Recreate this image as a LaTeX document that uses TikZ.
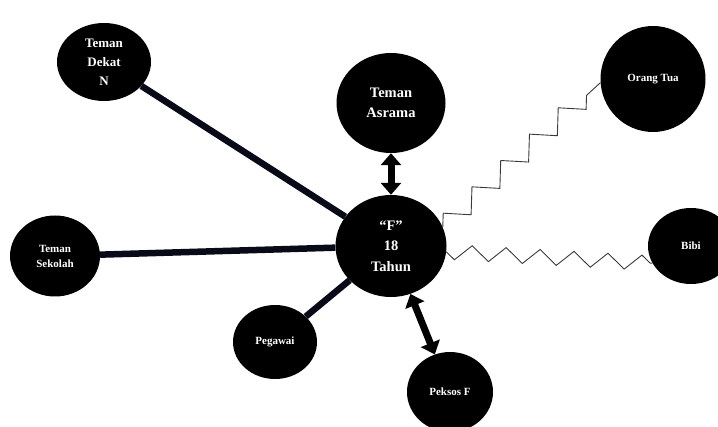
\documentclass[tikz,border=0pt]{standalone}
\usepackage{fontspec}
\setmainfont{Liberation Serif}
\usetikzlibrary{positioning}
\usetikzlibrary{shapes.geometric}
\usetikzlibrary{arrows.meta}
\usetikzlibrary{decorations.pathmorphing}
\definecolor{linkblue}{HTML}{080A18}
\definecolor{zigzaggray}{HTML}{3A3A3A}

\begin{document}
\begin{tikzpicture}[x=1pt, y=-1pt,
  person/.style={ellipse, fill=black, text=white, align=center, inner sep=0pt},
  bigtext/.style={font=\bfseries\fontsize{14.5}{20.5}\selectfont},
  smalltext/.style={font=\bfseries\fontsize{11}{15}\selectfont},
  tie/.style={line width=6.5pt, draw=linkblue},
  twoway/.style={line width=7pt, {Triangle[length=12pt,width=20pt]}-{Triangle[length=12pt,width=20pt]}},
  strain/.style={draw=zigzaggray, line width=0.9pt, decorate}]

\useasboundingbox (0, 0) rectangle (718, 427);

% the people
\node [person, bigtext, minimum width=111pt, minimum height=102pt] (f) at (391, 246) {“F”\\18\\Tahun};
\node [person, bigtext, minimum width=109pt, minimum height=100pt] (asrama) at (391, 103) {Teman\\Asrama};
\node [person, font=\bfseries\fontsize{13}{19}\selectfont, minimum width=94pt, minimum height=78pt] (dekat) at (104, 62) {Teman\\Dekat\\N};
\node [person, smalltext, minimum width=90pt, minimum height=81pt] (sekolah) at (55, 256) {Teman\\Sekolah};
\node [person, smalltext, minimum width=84pt, minimum height=74pt] (pegawai) at (275, 342) {Pegawai};
\node [person, smalltext, minimum width=86pt, minimum height=80pt] (peksos) at (450, 392) {Peksos F};
\node [person, smalltext, minimum width=105pt, minimum height=106pt] (ortu) at (653, 79) {Orang Tua};
\node [person, smalltext, minimum width=86pt, minimum height=76pt] (bibi) at (691, 246) {Bibi};

% close ties
\draw [tie] (dekat) -- (f);
\draw [tie] (sekolah) -- (f);
\draw [tie] (pegawai) -- (f);

% two way links
\draw [twoway] (asrama) -- (f);
\draw [twoway] (f) -- (peksos);

% strained ties
\draw [strain, decoration={zigzag, segment length=39pt, amplitude=10pt}] (f.20) -- (ortu.184);
\draw [strain, decoration={zigzag, segment length=34pt, amplitude=7.5pt, mirror}] (f.-6) -- (bibi.204);

\end{tikzpicture}
\end{document}
